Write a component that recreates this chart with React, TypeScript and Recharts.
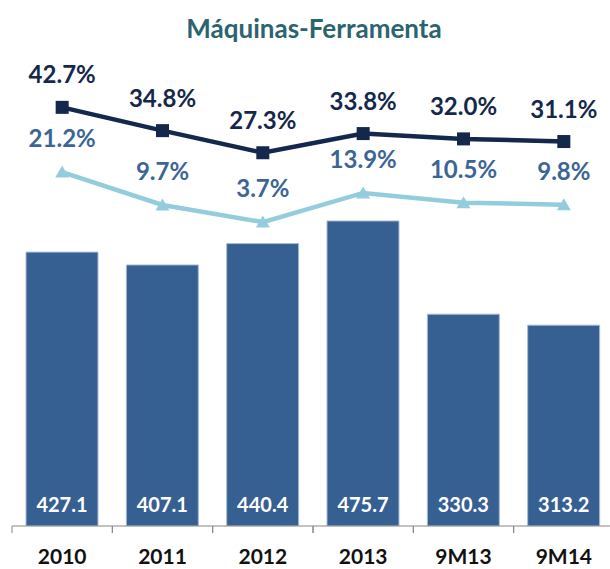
import { ComposedChart, Bar, Line, XAxis, YAxis, LabelList } from "recharts"

const categories = ["2010", "2011", "2012", "2013", "9M13", "9M14"]
const revenue = [427.1, 407.1, 440.4, 475.7, 330.3, 313.2]
const marginHigh = [42.7, 34.8, 27.3, 33.8, 32.0, 31.1]
const marginLow = [21.2, 9.7, 3.7, 13.9, 10.5, 9.8]

const data = categories.map((name, i) => ({
    name,
    revenue: revenue[i],
    high: marginHigh[i],
    low: marginLow[i],
}))

const FONT = "Lato, 'Open Sans', sans-serif"
const NAVY = "#14284b"
const BAR = "#376092"
const LIGHT = "#93cddd"
const LOW_TEXT = "#3c6597"
const BAND = (614 - 12) / categories.length

const SquareDot = (props: any) => {
    const { cx, cy } = props
    if (cx == null || cy == null) return null
    return <rect x={cx - 6.5} y={cy - 6.5} width={13} height={13} fill={NAVY} />
}

const TriangleDot = (props: any) => {
    const { cx, cy } = props
    if (cx == null || cy == null) return null
    return (
        <polygon
            points={`${cx},${cy - 6.5} ${cx + 7},${cy + 5.5} ${cx - 7},${cy + 5.5}`}
            fill={LIGHT}
        />
    )
}

const pctLabel = (color: string, offset: number) => (props: any) => {
    const { x, y, value } = props
    return (
        <text
            x={x}
            y={y - offset}
            textAnchor="middle"
            fill={color}
            fontFamily={FONT}
            fontWeight={700}
            fontSize={24}
        >
            {Number(value).toFixed(1)}%
        </text>
    )
}

const barLabel = (props: any) => {
    const { x, y, width, height, value } = props
    return (
        <text
            x={x + width / 2}
            y={y + height - 14.5}
            textAnchor="middle"
            fill="#ffffff"
            fontFamily={FONT}
            fontWeight={700}
            fontSize={20}
        >
            {Number(value).toFixed(1)}
        </text>
    )
}

const CategoryTick = (props: any) => {
    const { x, y, payload } = props
    return (
        <g>
            <line x1={x - BAND / 2} x2={x - BAND / 2} y1={y - 7} y2={y} stroke="#868686" />
            <line x1={x + BAND / 2} x2={x + BAND / 2} y1={y - 7} y2={y} stroke="#868686" />
            <text
                x={x}
                y={y + 31}
                textAnchor="middle"
                fill="#111111"
                fontFamily={FONT}
                fontWeight={700}
                fontSize={21}
            >
                {payload.value}
            </text>
        </g>
    )
}

export default function App() {
    return (
        <div
            style={{
                position: "absolute",
                left: 0,
                top: 0,
                width: 610,
                height: 569,
                overflow: "hidden",
                background: "#ffffff",
            }}
        >
            <ComposedChart
                width={614}
                height={569}
                data={data}
                margin={{ top: 13, right: 0, bottom: 0, left: 12 }}
            >
                <XAxis
                    dataKey="name"
                    height={43}
                    tickLine={false}
                    tickSize={7}
                    tickMargin={0}
                    axisLine={{ stroke: "#868686" }}
                    tick={<CategoryTick />}
                    interval={0}
                />
                <YAxis yAxisId="bar" hide domain={[0, 800]} allowDataOverflow />
                <YAxis yAxisId="high" hide domain={[-99.3, 74.7]} allowDataOverflow />
                <YAxis yAxisId="low" hide domain={[-102.7, 76.9]} allowDataOverflow />
                <Bar
                    yAxisId="bar"
                    dataKey="revenue"
                    fill={BAR}
                    stroke="#a9bcd4"
                    strokeWidth={1}
                    barSize={72}
                    isAnimationActive={false}
                >
                    <LabelList dataKey="revenue" content={barLabel} />
                </Bar>
                <Line
                    yAxisId="low"
                    dataKey="low"
                    stroke={LIGHT}
                    strokeWidth={4.5}
                    dot={<TriangleDot />}
                    activeDot={false}
                    isAnimationActive={false}
                >
                    <LabelList dataKey="low" content={pctLabel(LOW_TEXT, 25)} />
                </Line>
                <Line
                    yAxisId="high"
                    dataKey="high"
                    stroke={NAVY}
                    strokeWidth={4.5}
                    dot={<SquareDot />}
                    activeDot={false}
                    isAnimationActive={false}
                >
                    <LabelList dataKey="high" content={pctLabel(NAVY, 24)} />
                </Line>
            </ComposedChart>
            <svg
                width={610}
                height={50}
                style={{ position: "absolute", left: 0, top: 0, pointerEvents: "none" }}
            >
                <text
                    x={314}
                    y={37.5}
                    textAnchor="middle"
                    fill="#2b6370"
                    fontFamily={FONT}
                    fontWeight={700}
                    fontSize={26}
                >
                    Máquinas-Ferramenta
                </text>
            </svg>
        </div>
    )
}
